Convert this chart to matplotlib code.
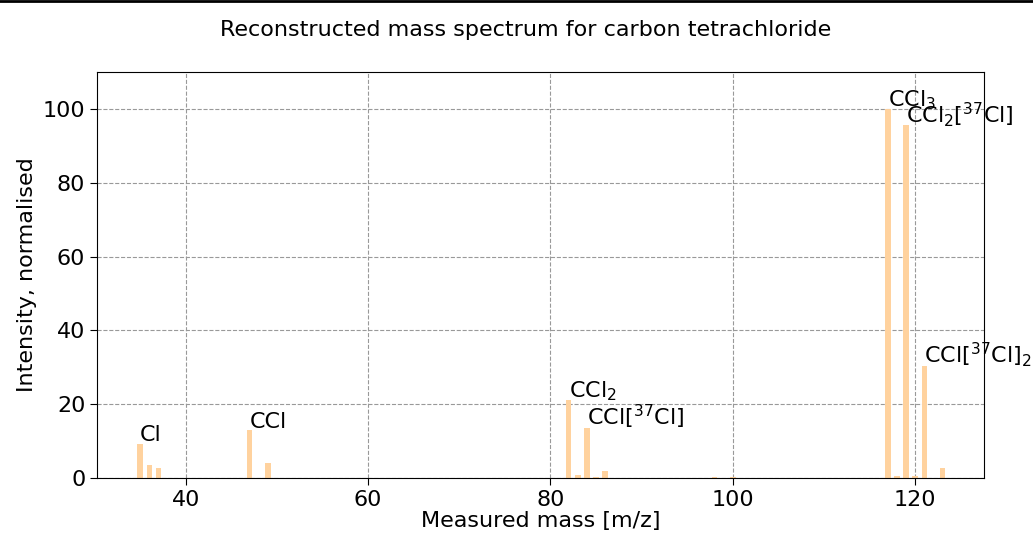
import matplotlib
matplotlib.use("Agg")
import matplotlib.pyplot as plt
from matplotlib.lines import Line2D

masses = [35, 36, 37, 47, 49, 82, 83, 84, 85, 86, 98, 100, 117, 118, 119, 120, 121, 123]
intensities = [9.3, 3.6, 2.8, 12.9, 4.0, 21.1, 0.7, 13.5, 0.3, 1.8, 0.3, 0.2,
               100.0, 0.5, 95.6, 0.6, 30.4, 2.8]

label_masses = [35, 47, 82, 84, 117, 119, 121]
label_values = [9.3, 12.9, 21.1, 13.5, 100.0, 95.6, 30.4]
label_texts = ["Cl", "CCl", "CCl$_2$", "CCl[$^{37}$Cl]", "CCl$_3$",
               "CCl$_2$[$^{37}$Cl]", "CCl[$^{37}$Cl]$_2$"]

fig = plt.figure(figsize=(10.33, 5.41), dpi=100)
ax = fig.add_axes([0.094, 0.1165, 0.859, 0.7505])

ax.bar(masses, intensities, width=0.6, color="#ffd29e", zorder=2)
for m, v, t in zip(label_masses, label_values, label_texts):
    ax.annotate(t, (m, v), xytext=(0, 2), textcoords="offset points",
                fontsize=16, va="baseline", ha="left", zorder=3)

ax.set_xlim(30.27, 127.6)
ax.set_ylim(0, 110)
ax.set_xticks([40, 60, 80, 100, 120])
ax.set_yticks([0, 20, 40, 60, 80, 100])
ax.tick_params(labelsize=16, length=5)
ax.grid(True, linestyle="--", color="#999999", linewidth=0.8, zorder=0)
ax.set_axisbelow(True)
ax.set_xlabel("Measured mass [m/z]", fontsize=16, labelpad=1)
ax.set_ylabel("Intensity, normalised", fontsize=16)
fig.suptitle("Reconstructed mass spectrum for carbon tetrachloride", fontsize=16,
             x=0.509, y=0.963)

fig.add_artist(Line2D([0, 1], [0.999, 0.999], transform=fig.transFigure, color="black", linewidth=2))

fig.savefig("out.png", dpi=100)
